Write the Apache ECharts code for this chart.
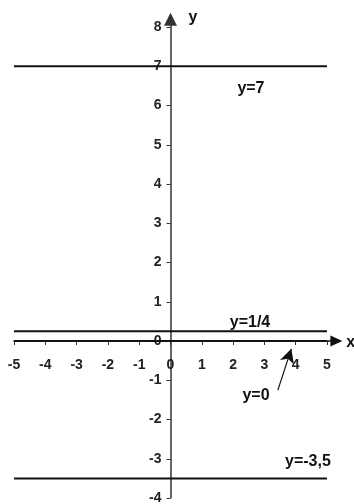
<!DOCTYPE html>
<html>
<head>
<meta charset="utf-8">
<script src="https://cdn.jsdelivr.net/npm/echarts@6/dist/echarts.min.js"></script>
<style>
html, body { margin: 0; padding: 0; background: #fff; }
#main { width: 354px; height: 504px; }
</style>
</head>
<body>
<div id="main"></div>
<script>
// tick labels on both axes
var xTicks = [-5, -4, -3, -2, -1, 0, 1, 2, 3, 4, 5];
var yTicks = [-4, -3, -2, -1, 0, 1, 2, 3, 4, 5, 6, 7, 8];
// horizontal lines y = c, drawn over x in [-5, 5]
var lineNames = ['y=7', 'y=1/4', 'y=0', 'y=-3,5'];
var lineValues = [7, 0.25, 0, -3.5];
var lineRange = [-5, 5];

var font = '"Liberation Sans", Arial, sans-serif';
var gridBox = { left: 14, right: 17.6, top: 19.2, bottom: 6 };

// where the captions sit (data coords)
var captionAt = [[2.57, 6.42], [2.54, 0.46], [2.73, -1.38], [4.39, -3.08]];

var series = lineValues.map(function (v, i) {
    var s = {
        name: lineNames[i],
        type: 'line',
        symbol: 'none',
        silent: true,
        data: [[lineRange[0], v], [lineRange[1], v]],
        lineStyle: { color: '#111', width: 2 },
        z: 3
    };
    if (v === 0) {
        // pointer from the caption to the line
        s.markLine = {
            silent: true,
            symbol: ['none', 'arrow'],
            symbolSize: [11, 14],
            label: { show: false },
            lineStyle: { color: '#111', width: 1.2, type: 'solid' },
            data: [[{ coord: [3.43, -1.25] }, { coord: [3.86, -0.2] }]]
        };
    }
    return s;
});

var chart = echarts.init(document.getElementById('main'));
chart.setOption({
    animation: false,
    backgroundColor: '#fff',
    grid: {
        left: gridBox.left, right: gridBox.right, top: gridBox.top, bottom: gridBox.bottom,
        containLabel: false, outerBoundsMode: 'none'
    },
    xAxis: {
        type: 'value',
        min: -5,
        max: 5.3,
        splitLine: { show: false },
        axisLine: {
            onZero: false,
            symbol: ['none', 'triangle'],
            symbolSize: [11, 12],
            lineStyle: { color: '#111', width: 1.5 }
        },
        axisTick: { customValues: xTicks, length: 4, lineStyle: { color: '#333', width: 1 } },
        axisLabel: {
            customValues: xTicks,
            margin: 17,
            color: '#222',
            fontFamily: font,
            fontWeight: 'bold',
            fontSize: 14
        }
    },
    yAxis: {
        type: 'value',
        min: -4,
        max: 8.2,
        splitLine: { show: false },
        axisLine: {
            onZero: false,
            symbol: ['none', 'triangle'],
            symbolSize: [13, 13],
            lineStyle: { color: '#333', width: 1.5 }
        },
        axisTick: { customValues: yTicks, length: 4, lineStyle: { color: '#333', width: 1 } },
        axisLabel: {
            customValues: yTicks,
            margin: 9,
            color: '#222',
            fontFamily: font,
            fontWeight: 'bold',
            fontSize: 14
        }
    },
    series: series
});

// move both axes so they cross at the origin
var origin = chart.convertToPixel({ gridIndex: 0 }, [0, 0]);
var h = chart.getHeight();

// captions and axis names placed through the grid's scales
var texts = lineNames.map(function (n, i) {
    return { text: n, at: captionAt[i] };
});
texts.push({ text: 'y', at: [0.72, 8.25] });
texts.push({ text: 'x', at: [5.76, -0.05] });

chart.setOption({
    xAxis: { offset: -((h - gridBox.bottom) - origin[1]) },
    yAxis: { offset: -(origin[0] - gridBox.left) },
    graphic: texts.map(function (t) {
        var p = chart.convertToPixel({ gridIndex: 0 }, t.at);
        return {
            type: 'text',
            x: p[0],
            y: p[1],
            silent: true,
            style: {
                text: t.text,
                fill: '#111',
                font: 'bold 16px ' + font,
                textAlign: 'center',
                textVerticalAlign: 'middle'
            },
            z: 10
        };
    })
});
</script>
</body>
</html>
